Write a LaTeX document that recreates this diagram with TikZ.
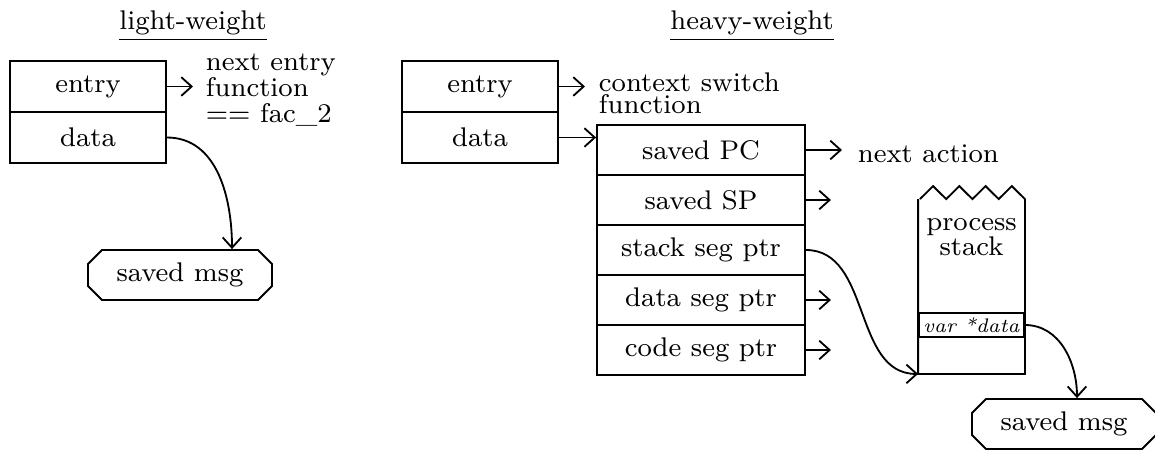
\documentclass[tikz,border=0pt]{standalone}
\usetikzlibrary{arrows.meta,shapes.misc,calc}
\newcommand\mainf{\fontsize{8.1}{7.7}\selectfont}
\newcommand\ctxf{\fontsize{8.1}{6.6}\selectfont}
\newcommand\smallit{\fontsize{5.9}{6}\selectfont\itshape}
\begin{document}
\begin{tikzpicture}[x=0.3pt,y=-0.3pt, line width=0.55pt,
  >={Straight Barb[length=3.1pt,width=5.6pt]},
  field/.style={draw, inner sep=0pt, font=\mainf},
  narrow/.style={field, minimum width=46.8pt, minimum height=15.3pt},
  wide/.style={field, minimum width=62.4pt, minimum height=15pt},
  msg/.style={draw, chamfered rectangle, chamfered rectangle xsep=2.3pt,
    chamfered rectangle ysep=1.9pt, minimum width=55.2pt, minimum height=15pt,
    inner sep=0pt, font=\mainf},
  txt/.style={font=\mainf, inner ysep=0pt},
  title/.style={font=\mainf, anchor=base, inner sep=0pt}]
\useasboundingbox (0,0) rectangle (1155,449);

% light-weight closure
\node[title] (lt) at (193,29) {\underline{light-weight}};
\node[narrow] (lentry) at (88,86.5) {entry};
\node[narrow] (ldata) at (88,137.5) {data};
\node[txt, anchor=west, inner xsep=3.6pt, align=left] (lnext) at (193,90)
  {next entry\\function\\== fac\_2};
\node[msg] (lmsg) at (180,275) {saved msg};
\draw[->] (lentry.east) -- (lentry.east -| lnext.west);
\draw[->] (ldata.east) to[out=0,in=90] ($(lmsg.north)+(52,0)$);

% heavy-weight closure
\node[title] (ht) at (752,29) {\underline{heavy-weight}};
\node[narrow] (hentry) at (480,86.5) {entry};
\node[narrow] (hdata) at (480,137.5) {data};
\node[txt, font=\ctxf, anchor=west, inner xsep=3.9pt, align=left] (hctx) at (585,93)
  {context switch\\function};
\draw[->] (hentry.east) -- (hentry.east -| hctx.west);

% saved process state
\node[wide] (pc) at (701,150) {saved PC};
\node[wide] (sp) at (701,200) {saved SP};
\node[wide] (ssp) at (701,250) {stack seg ptr};
\node[wide] (dsp) at (701,300) {data seg ptr};
\node[wide] (csp) at (701,350) {code seg ptr};
\draw[->] (hdata.east) -- (hdata.east -| pc.west);

\node[txt, anchor=west, inner xsep=4.5pt] (na) at (842,154) {next action};
\draw[->] (pc.east) -- (pc.east -| na.west);
\coordinate (spend) at ($(sp.east)+(25,0)$);
\coordinate (dspend) at ($(dsp.east)+(25,0)$);
\coordinate (cspend) at ($(csp.east)+(25,0)$);
\draw[->] (sp.east) -- (spend);
\draw[->] (dsp.east) -- (dspend);
\draw[->] (csp.east) -- (cspend);

% process stack with torn top edge
\node[minimum width=31.5pt, minimum height=51.9pt, inner sep=0pt] (stk) at (971.5,286.5) {};
\draw (stk.north west) -- (stk.south west) -- (stk.south east) -- (stk.north east)
  -- ++(-13.125,-13) -- ++(-13.125,13) -- ++(-13.125,-13) -- ++(-13.125,13)
  -- ++(-13.125,-13) -- ++(-13.125,13) -- ++(-13.125,-13) -- ++(-13.125,13);
\node[txt, align=center] (pstx) at (971.5,237) {process\\stack};
\node[draw, minimum width=31.5pt, minimum height=7.2pt, inner sep=0pt, font=\smallit]
  (vd) at (971.5,325) {var *data};
\draw[->] (ssp.east) to[out=0,in=180] (stk.south west);

\node[msg] (rmsg) at (1064,424) {saved msg};
\draw[->] (vd.east) to[out=0,in=90] ($(rmsg.north)+(13,0)$);
\end{tikzpicture}
\end{document}
